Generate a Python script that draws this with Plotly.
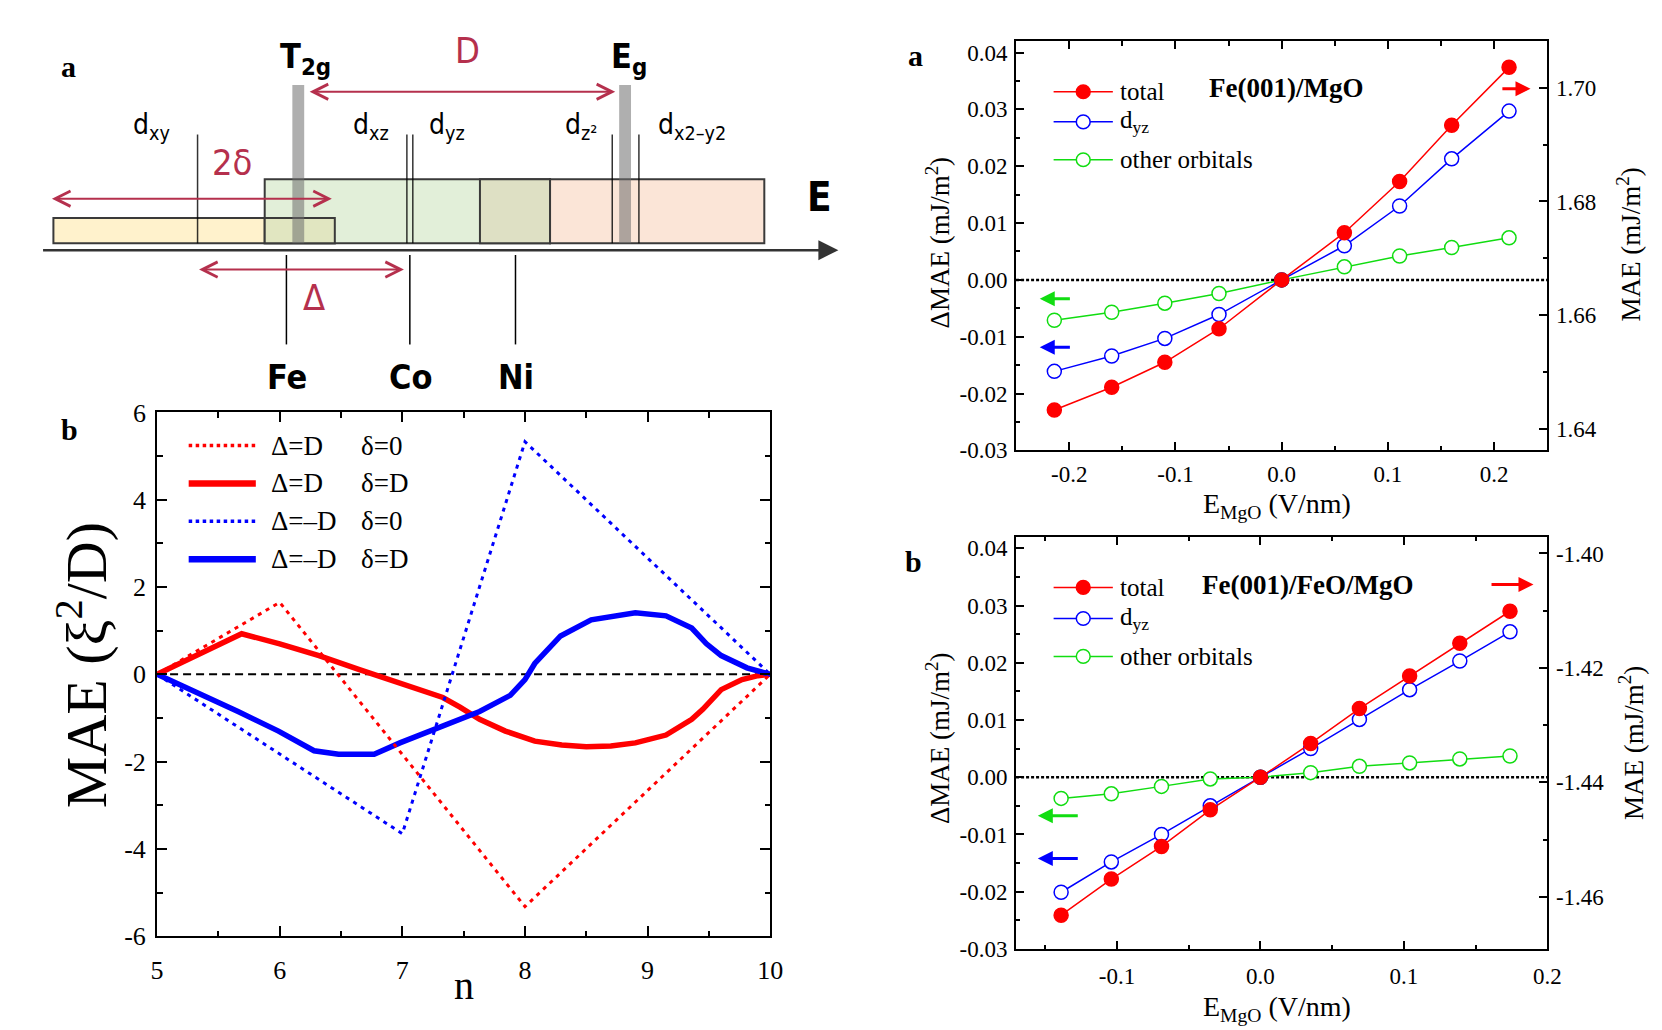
import plotly.graph_objects as go

W, H = 1662, 1030
SERIF = "Liberation Serif, Times New Roman, serif"
SANS = "Liberation Sans Narrow, DejaVu Sans Condensed, Arial Narrow, sans-serif"
RED, BLUE, GREEN = "#ff0000", "#0000ff", "#11dd11"
CRIMSON = "#b5304d"

# ---------------- Panel b (model): MAE vs band filling n ----------------
n_dpos_d0 = [5, 6, 8, 10]
mae_dpos_d0 = [0, 1.65, -5.32, 0]
n_dneg_d0 = [5, 7, 8, 10]
mae_dneg_d0 = [0, -3.65, 5.33, 0]
n_dpos_dD = [5.0, 5.35, 5.69, 6.0, 6.32, 6.65, 6.9, 7.14, 7.33, 7.47, 7.63, 7.84, 8.08,
             8.3, 8.5, 8.7, 8.9, 9.15, 9.36, 9.45, 9.52, 9.6, 9.77, 9.9, 10.0]
mae_dpos_dD = [0, 0.46, 0.93, 0.70, 0.43, 0.11, -0.12, -0.35, -0.53, -0.75, -1.03, -1.30, -1.53,
               -1.62, -1.66, -1.64, -1.57, -1.39, -1.03, -0.8, -0.57, -0.35, -0.12, -0.03, 0]
n_dneg_dD = [5.0, 5.33, 5.66, 5.99, 6.28, 6.48, 6.77, 6.98, 7.31, 7.63, 7.88, 8.0, 8.08,
             8.29, 8.54, 8.9, 9.15, 9.36, 9.48, 9.6, 9.81, 10.0]
mae_dneg_dD = [0, -0.42, -0.85, -1.3, -1.75, -1.83, -1.83, -1.57, -1.21, -0.85, -0.48, -0.12, 0.25,
               0.88, 1.25, 1.41, 1.34, 1.06, 0.70, 0.43, 0.15, 0]
legend_b_col1 = ["Δ=D", "Δ=D", "Δ=–D", "Δ=–D"]
legend_b_col2 = ["δ=0", "δ=D", "δ=0", "δ=D"]
xb_ticks = [5, 6, 7, 8, 9, 10]
xb_ticktext = ["5", "6", "7", "8", "9", "10"]
yb_ticks = [-6, -4, -2, 0, 2, 4, 6]
yb_ticktext = ["-6", "-4", "-2", "0", "2", "4", "6"]
xb_minor = [5.5, 6.5, 7.5, 8.5, 9.5]
yb_minor = [-5, -3, -1, 1, 3, 5]

# ---------------- Panel a (right): Fe(001)/MgO ----------------
E_a = [-0.214, -0.160, -0.110, -0.059, 0.0, 0.059, 0.111, 0.160, 0.214]
total_a = [1.6433, 1.6473, 1.6517, 1.6576, 1.6662, 1.6745, 1.6835, 1.6934, 1.7036]  # MAE, right axis
dyz_a = [-0.0161, -0.0134, -0.0103, -0.0061, 0.0, 0.0060, 0.0130, 0.0213, 0.0297]
other_a = [-0.0071, -0.0057, -0.0041, -0.0024, 0.0, 0.0023, 0.0042, 0.0057, 0.0074]

# ---------------- Panel b (right): Fe(001)/FeO/MgO ----------------
E_b = [-0.139, -0.104, -0.069, -0.035, 0.0, 0.035, 0.069, 0.104, 0.139, 0.174]
total_b = [-1.4632, -1.4569, -1.4512, -1.4448, -1.4391, -1.4332, -1.4271, -1.4214, -1.4157, -1.4101]
dyz_b = [-0.0201, -0.0148, -0.0100, -0.0050, 0.0, 0.0050, 0.0101, 0.0153, 0.0203, 0.0254]
other_b = [-0.0037, -0.0029, -0.0016, -0.0003, 0.0, 0.0008, 0.0019, 0.0025, 0.0032, 0.0037]

dmae_ticks = [-0.03, -0.02, -0.01, 0.0, 0.01, 0.02, 0.03, 0.04]
dmae_ticktext = ["-0.03", "-0.02", "-0.01", "0.00", "0.01", "0.02", "0.03", "0.04"]
dmae_minor = [-0.025, -0.015, -0.005, 0.005, 0.015, 0.025, 0.035]
xa_ticks = [-0.2, -0.1, 0.0, 0.1, 0.2]
xa_ticktext = ["-0.2", "-0.1", "0.0", "0.1", "0.2"]
xa_minor = [-0.15, -0.05, 0.05, 0.15]
xb2_ticks = [-0.1, 0.0, 0.1, 0.2]
xb2_ticktext = ["-0.1", "0.0", "0.1", "0.2"]
xb2_minor = [-0.15, -0.05, 0.05, 0.15]
mae_a_ticks = [1.64, 1.66, 1.68, 1.70]
mae_a_ticktext = ["1.64", "1.66", "1.68", "1.70"]
mae_a_minor = [1.65, 1.67, 1.69]
mae_b_ticks = [-1.46, -1.44, -1.42, -1.40]
mae_b_ticktext = ["-1.46", "-1.44", "-1.42", "-1.40"]
mae_b_minor = [-1.45, -1.43, -1.41]
legend_r_labels = ["total", "d<sub>yz</sub>", "other orbitals"]

# ---------------- Schematic (panel a, left), pixel coordinates ----------------
band_x0 = [47, 261, 261, 479, 550]
band_x1 = [332, 550, 332, 550, 767]
band_y0 = [210, 170, 210, 170, 170]
band_y1 = [236, 236, 236, 236, 236]
band_fill = ["#fff2cc", "#e2efd9", "#e1e6c1", "#dee0c4", "#fbe5d7"]
level_x = [193, 405, 411, 613, 640]
level_label = ["d<sub>xy</sub>", "d<sub>xz</sub>", "d<sub>yz</sub>", "d<sub>z²</sub>", "d<sub>x2–y2</sub>"]
level_label_x = [146, 369, 446, 581, 694]
crystal_bar_x = [295, 626]
crystal_label = ["<b>T<sub>2g</sub></b>", "<b>E<sub>g</sub></b>"]
crystal_label_x = [302, 630]
element_x = [283, 408, 515]
element_label = ["<b>Fe</b>", "<b>Co</b>", "<b>Ni</b>"]

fig = go.Figure()


def line_tr(x, y, color, width, dash, xa, ya):
    return go.Scatter(x=x, y=y, mode="lines", line=dict(color=color, width=width, dash=dash),
                      xaxis=xa, yaxis=ya, showlegend=False, hoverinfo="skip")


# panel b curves
fig.add_trace(line_tr(n_dpos_dD, mae_dpos_dD, RED, 5.5, "solid", "x", "y"))
fig.add_trace(line_tr(n_dneg_dD, mae_dneg_dD, BLUE, 5.5, "solid", "x", "y"))
fig.add_trace(line_tr(n_dpos_d0, mae_dpos_d0, RED, 3, "4px,5px", "x", "y"))
fig.add_trace(line_tr(n_dneg_d0, mae_dneg_d0, BLUE, 3, "4px,5px", "x", "y"))


def pts(x, y, color, filled, xa, ya):
    return go.Scatter(x=x, y=y, mode="lines+markers",
                      line=dict(color=color, width=1.5),
                      marker=dict(symbol="circle", size=14,
                                  color=color if filled else "white",
                                  line=dict(color=color, width=1.5)),
                      xaxis=xa, yaxis=ya, showlegend=False, hoverinfo="skip")


fig.add_trace(pts(E_a, other_a, GREEN, False, "x2", "y2"))
fig.add_trace(pts(E_a, dyz_a, BLUE, False, "x2", "y2"))
fig.add_trace(pts(E_a, total_a, RED, True, "x2", "y5"))
fig.add_trace(pts(E_b, other_b, GREEN, False, "x3", "y3"))
fig.add_trace(pts(E_b, dyz_b, BLUE, False, "x3", "y3"))
fig.add_trace(pts(E_b, total_b, RED, True, "x3", "y6"))

# schematic element marker lines (on pixel overlay axis)
ex, ey = [], []
for xv in element_x:
    ex += [xv, xv, None]
    ey += [248, 340, None]
fig.add_trace(go.Scatter(x=ex, y=ey, mode="lines", line=dict(color="black", width=1.5),
                         xaxis="x4", yaxis="y4", showlegend=False, hoverinfo="skip"))

shapes = []
ann = []

# ---- schematic shapes ----
for x0, x1, y0, y1, fc in zip(band_x0, band_x1, band_y0, band_y1, band_fill):
    shapes.append(dict(type="rect", xref="x4", yref="y4", x0=x0, x1=x1, y0=y0, y1=y1,
                       fillcolor=fc, line=dict(color="#3a3a3a", width=2), layer="below"))
for xv in level_x:
    shapes.append(dict(type="line", xref="x4", yref="y4", x0=xv, x1=xv, y0=124, y1=236,
                       line=dict(color="rgba(0,0,0,0.8)", width=1.5), layer="below"))
for xv in crystal_bar_x:
    shapes.append(dict(type="rect", xref="x4", yref="y4", x0=xv - 6, x1=xv + 6, y0=73, y1=236,
                       fillcolor="rgba(110,110,110,0.55)", line=dict(width=0), layer="below"))

for t, xv in zip(level_label, level_label_x):
    ann.append(dict(text=t, x=xv, y=116, xref="x4", yref="y4", showarrow=False,
                    font=dict(family=SANS, size=28, color="black")))
for t, xv in zip(crystal_label, crystal_label_x):
    ann.append(dict(text=t, x=xv, y=46, xref="x4", yref="y4", showarrow=False,
                    font=dict(family=SANS, size=34, color="black")))
for t, xv in zip(element_label, element_x):
    ann.append(dict(text=t, x=xv + 1, y=374, xref="x4", yref="y4", showarrow=False,
                    font=dict(family=SANS, size=34, color="black")))
ann.append(dict(text="D", x=466, y=38, xref="x4", yref="y4", showarrow=False,
                font=dict(family=SANS, size=36, color=CRIMSON)))
ann.append(dict(text="2δ", x=228, y=153, xref="x4", yref="y4", showarrow=False,
                font=dict(family=SANS, size=36, color=CRIMSON)))
ann.append(dict(text="Δ", x=311, y=292, xref="x4", yref="y4", showarrow=False,
                font=dict(family=SANS, size=36, color=CRIMSON)))
ann.append(dict(text="<b>E</b>", x=823, y=188, xref="x4", yref="y4", showarrow=False,
                font=dict(family=SANS, size=40, color="black")))
ann.append(dict(text="<b>a</b>", x=62, y=54, xref="x4", yref="y4", showarrow=False,
                font=dict(family=SERIF, size=30, color="black")))
ann.append(dict(text="<b>b</b>", x=63, y=428, xref="x4", yref="y4", showarrow=False,
                font=dict(family=SERIF, size=30, color="black")))
ann.append(dict(text="<b>a</b>", x=920, y=43, xref="x4", yref="y4", showarrow=False,
                font=dict(family=SERIF, size=30, color="black")))
ann.append(dict(text="<b>b</b>", x=918, y=563, xref="x4", yref="y4", showarrow=False,
                font=dict(family=SERIF, size=30, color="black")))


def arrow(x, y, ax, ay, color, head, width, size, both=False):
    d = dict(text="", x=x, y=y, ax=ax, ay=ay, xref="x4", yref="y4", axref="x4", ayref="y4",
             showarrow=True, arrowhead=head, arrowwidth=width, arrowsize=size, arrowcolor=color)
    if both:
        d.update(arrowside="end+start", startarrowhead=head, startarrowsize=size)
    return d


ann.append(arrow(842, 243, 35, 243, "#333333", 2, 2.5, 1.6))
ann.append(arrow(616, 80, 305, 80, CRIMSON, 5, 2, 1.5, both=True))
ann.append(arrow(329, 190, 44, 190, CRIMSON, 5, 2, 1.5, both=True))
ann.append(arrow(402, 263, 193, 263, CRIMSON, 5, 2, 1.5, both=True))

# ---- panel b legend ----
leg_b_y = [444, 483, 522, 561]
leg_b_col = [RED, RED, BLUE, BLUE]
leg_b_w = [3.5, 6.5, 3.5, 6.5]
leg_b_dash = ["dot", "solid", "dot", "solid"]
for yv, c, w, d, t1, t2 in zip(leg_b_y, leg_b_col, leg_b_w, leg_b_dash, legend_b_col1, legend_b_col2):
    shapes.append(dict(type="line", xref="x4", yref="y4", x0=184, x1=252, y0=yv, y1=yv,
                       line=dict(color=c, width=w, dash=d)))
    ann.append(dict(text=t1, x=265, y=yv, xref="x4", yref="y4", xanchor="left", showarrow=False,
                    font=dict(family=SERIF, size=27, color="black")))
    ann.append(dict(text=t2, x=357, y=yv, xref="x4", yref="y4", xanchor="left", showarrow=False,
                    font=dict(family=SERIF, size=27, color="black")))

# zero lines
shapes.append(dict(type="line", xref="x domain", yref="y", x0=0, x1=1, y0=0, y1=0,
                   line=dict(color="black", width=2, dash="8px,5px"), layer="below"))
shapes.append(dict(type="line", xref="x2 domain", yref="y2", x0=0, x1=1, y0=0, y1=0,
                   line=dict(color="black", width=2.5, dash="3px,2px"), layer="below"))
shapes.append(dict(type="line", xref="x3 domain", yref="y3", x0=0, x1=1, y0=0, y1=0,
                   line=dict(color="black", width=2.5, dash="3px,2px"), layer="below"))

# ---- right panel legends, headers, arrows ----
for rows, title_txt, ty, tx in [([80, 111, 150], "<b>Fe(001)/MgO</b>", 76, 1295),
                                ([590, 622, 661], "<b>Fe(001)/FeO/MgO</b>", 588, 1317)]:
    for yv, c, filled, lab in zip(rows, [RED, BLUE, GREEN], [True, False, False], legend_r_labels):
        shapes.append(dict(type="line", xref="x4", yref="y4", x0=1060, x1=1120, y0=yv, y1=yv,
                           line=dict(color=c, width=1.5)))
        shapes.append(dict(type="circle", xref="x4", yref="y4", x0=1083, x1=1097, y0=yv - 7, y1=yv + 7,
                           fillcolor=c if filled else "white", line=dict(color=c, width=1.5)))
        ann.append(dict(text=lab, x=1125, y=yv, xref="x4", yref="y4", xanchor="left", showarrow=False,
                        font=dict(family=SERIF, size=25, color="black")))
    ann.append(dict(text=title_txt, x=tx, y=ty, xref="x4", yref="y4", showarrow=False,
                    font=dict(family=SERIF, size=27, color="black")))

ann.append(arrow(1543, 77, 1513, 77, RED, 2, 3, 1))
ann.append(arrow(1046, 293, 1078, 293, GREEN, 2, 3, 1))
ann.append(arrow(1046, 343, 1078, 343, BLUE, 2, 3, 1))
ann.append(arrow(1546, 587, 1502, 587, RED, 2, 3, 1))
ann.append(arrow(1044, 825, 1086, 825, GREEN, 2, 3, 1))
ann.append(arrow(1044, 869, 1086, 869, BLUE, 2, 3, 1))


# ---- axis titles ----
def title(text, x, y, size, angle=0):
    ann.append(dict(text=text, x=x, y=y, xref="x4", yref="y4", showarrow=False, textangle=angle,
                    font=dict(family=SERIF, size=size, color="black")))


title("MAE (ξ<sup>2</sup>/D)", 76, 670, 58, -90)
title("n", 463, 1000, 40)
title("ΔMAE (mJ/m<sup>2</sup>)", 943, 235, 27, -90)
title("MAE (mJ/m<sup>2</sup>)", 1643, 237, 27, -90)
title("E<sub>MgO</sub> (V/nm)", 1286, 506, 28)
title("ΔMAE (mJ/m<sup>2</sup>)", 943, 745, 27, -90)
title("MAE (mJ/m<sup>2</sup>)", 1645, 750, 27, -90)
title("E<sub>MgO</sub> (V/nm)", 1286, 1023, 28)


def ax(rng, tv, tt, minor, size, ticklen, mirror="ticks", side=None, standoff=6, **kw):
    d = dict(range=rng, tickmode="array", tickvals=tv, ticktext=tt, ticks="inside", ticklen=ticklen,
             tickwidth=2, tickcolor="black", showline=True, linecolor="black", linewidth=2,
             mirror=mirror, showgrid=False, zeroline=False, ticklabelstandoff=standoff,
             tickfont=dict(family=SERIF, size=size, color="black"),
             minor=dict(tickmode="array", tickvals=minor, ticks="inside", ticklen=ticklen * 0.55,
                        tickwidth=2, tickcolor="black", showgrid=False))
    if side:
        d["side"] = side
    d.update(kw)
    return d


def dom_x(a, b):
    return [a / W, b / W]


def dom_y(top, bottom):
    return [1 - bottom / H, 1 - top / H]


fig.update_layout(
    width=W, height=H, margin=dict(l=0, r=0, t=0, b=0),
    paper_bgcolor="white", plot_bgcolor="rgba(0,0,0,0)", showlegend=False,
    xaxis=ax([5, 10], xb_ticks, xb_ticktext, xb_minor, 26, 10, standoff=10,
             domain=dom_x(152, 773), anchor="y"),
    yaxis=ax([-6, 6], yb_ticks, yb_ticktext, yb_minor, 26, 10, standoff=4,
             domain=dom_y(410, 949), anchor="x"),
    xaxis2=ax([-0.25, 0.25], xa_ticks, xa_ticktext, xa_minor, 23, 8, standoff=2,
              domain=dom_x(1022, 1560), anchor="y2"),
    yaxis2=ax([-0.03, 0.042], dmae_ticks, dmae_ticktext, dmae_minor, 23, 8, mirror=False, standoff=2,
              domain=dom_y(28, 449), anchor="x2"),
    yaxis5=ax([1.6362, 1.7082], mae_a_ticks, mae_a_ticktext, mae_a_minor, 23, 8, mirror=False, standoff=2,
              side="right", overlaying="y2", anchor="x2"),
    xaxis3=ax([-0.1704, 0.2], xb2_ticks, xb2_ticktext, xb2_minor, 23, 8, standoff=5,
              domain=dom_x(1022, 1560), anchor="y3"),
    yaxis3=ax([-0.03, 0.042], dmae_ticks, dmae_ticktext, dmae_minor, 23, 8, mirror=False, standoff=2,
              domain=dom_y(538, 962), anchor="x3"),
    yaxis6=ax([-1.4691, -1.3971], mae_b_ticks, mae_b_ticktext, mae_b_minor, 23, 8, mirror=False, standoff=2,
              side="right", overlaying="y3", anchor="x3"),
    xaxis4=dict(range=[0, W], domain=[0, 1], visible=False, anchor="y4", fixedrange=True),
    yaxis4=dict(range=[H, 0], domain=[0, 1], visible=False, anchor="x4", fixedrange=True),
    shapes=shapes, annotations=ann,
)

fig.write_html("out.html", config={"displayModeBar": False},
               post_script="document.body.style.margin='0';document.body.style.overflow='hidden';")
